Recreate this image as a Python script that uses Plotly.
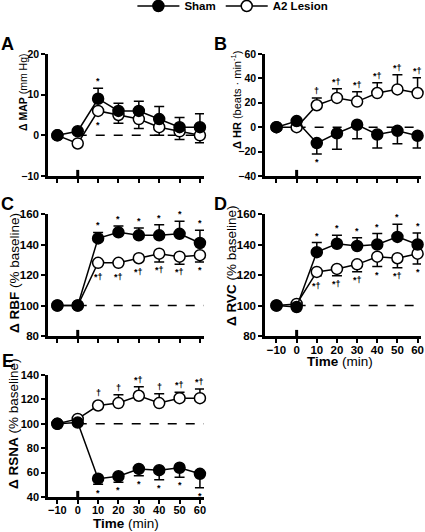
import plotly.graph_objects as go

# ---------------- data ----------------
time_min = [-10, 0, 10, 20, 30, 40, 50, 60]

map_sham = [0, 1, 9, 6, 6, 4, 2, 2]
map_sham_err = [0, 0, 2.6, 1.9, 2.4, 3.1, 2.4, 3.3]
map_lesion = [0, -2, 6, 5, 4, 2, 1, 0]
map_lesion_err = [0, 0, 0.5, 2.0, 2.3, 2.0, 2.0, 1.8]
map_sig_sham = ["", "", "*", "", "", "", "", ""]
map_sig_lesion = ["", "", "*", "", "", "", "", ""]

hr_sham = [0, 5, -13, -5, 2, -6, -3, -7]
hr_sham_err = [0, 0, 9, 13, 11.5, 11, 10.5, 10]
hr_lesion = [0, 0, 18, 24, 21, 28, 31, 28]
hr_lesion_err = [0, 0, 6, 7.5, 8, 8.5, 12, 12.5]
hr_sig_lesion = ["", "", "†", "*†", "*†", "*†", "*†", "*†"]
hr_sig_sham = ["", "", "*", "", "", "", "", ""]

rbf_sham = [100, 100, 144, 148, 146, 146, 147, 141]
rbf_sham_err = [0, 0, 3.8, 4.2, 4.8, 7, 8.3, 8.3]
rbf_lesion = [100, 100, 128, 128, 131, 134, 132, 133]
rbf_lesion_err = [0, 0, 0, 0, 0, 5.5, 5, 4.5]
rbf_sig_sham = ["", "", "*", "*", "*", "*", "*", "*"]
rbf_sig_lesion = ["", "", "*†", "*†", "*†", "*†", "*†", "*"]

rvc_sham = [100, 99, 135, 140.5, 139, 140, 145, 140]
rvc_sham_err = [0, 0, 6.3, 5.5, 5.5, 7.2, 8.3, 7.5]
rvc_lesion = [100, 101, 122, 124, 127, 132, 131, 134]
rvc_lesion_err = [0, 0, 2.5, 4.5, 4.8, 6.5, 6.2, 6.8]
rvc_sig_sham = ["", "", "*", "*", "*", "*", "*", "*"]
rvc_sig_lesion = ["", "", "*†", "*†", "*†", "*", "*†", "*"]

rsna_sham = [100, 101, 55, 57, 63, 62, 64, 59]
rsna_sham_err = [0, 0, 4.5, 5, 5.5, 7.8, 7.8, 11.5]
rsna_lesion = [100, 104, 115, 117, 123, 117, 121, 121]
rsna_lesion_err = [0, 0, 2, 6.8, 7.4, 7.6, 4.8, 7.6]
rsna_sig_lesion = ["", "", "†", "†", "*†", "†", "*†", "*†"]
rsna_sig_sham = ["", "", "*", "*", "*", "*", "*", "*"]

# ---------------- layout helpers ----------------
W, H = 425, 532
FONT = "Arial, Liberation Sans, sans-serif"

def fx(px):
    return px / W

def fy(py):
    return 1 - py / H

LEFT_X = [fx(48), fx(204)]
RIGHT_X = [fx(265), fx(421)]
LEFT_RANGE = [-14.6, 62.0]
RIGHT_RANGE = [-15.7, 61.7]
ROW_Y = [[fy(176), fy(54)], [fy(336), fy(214)], [fy(497), fy(375)]]

panels = [
    dict(letter="A", col=0, row=0, yr=[-10, 20], dt=10, base=0,
         ylab="<b>Δ MAP</b> (mm Hg)", ylab_pos=(23, 92), ylab_size=10.5, tick_size=10.5,
         series=[("lesion", map_lesion, map_lesion_err, "down", map_sig_lesion),
                 ("sham", map_sham, map_sham_err, "up", map_sig_sham)],
         xlabels=False),
    dict(letter="B", col=1, row=0, yr=[-40, 60], dt=20, base=0,
         ylab="<b>Δ HR</b> (beats · min<sup>-1</sup>)", ylab_pos=(236, 100), ylab_size=11, tick_size=10.5,
         series=[("lesion", hr_lesion, hr_lesion_err, "up", hr_sig_lesion),
                 ("sham", hr_sham, hr_sham_err, "down", hr_sig_sham)],
         xlabels=False),
    dict(letter="C", col=0, row=1, yr=[80, 160], dt=20, base=100,
         ylab="<b>Δ RBF</b> (% baseline)", ylab_pos=(14, 273), ylab_size=13.5, tick_size=11.5,
         series=[("lesion", rbf_lesion, rbf_lesion_err, "down", rbf_sig_lesion),
                 ("sham", rbf_sham, rbf_sham_err, "up", rbf_sig_sham)],
         xlabels=False),
    dict(letter="D", col=1, row=1, yr=[80, 160], dt=20, base=100,
         ylab="<b>Δ RVC</b> (% baseline)", ylab_pos=(231, 266), ylab_size=13.5, tick_size=11.5,
         series=[("lesion", rvc_lesion, rvc_lesion_err, "down", rvc_sig_lesion),
                 ("sham", rvc_sham, rvc_sham_err, "up", rvc_sig_sham)],
         xlabels=True, xtitle_pos=(340, 361)),
    dict(letter="E", col=0, row=2, yr=[40, 140], dt=20, base=100,
         ylab="<b>Δ RSNA</b> (% baseline)", ylab_pos=(13, 424), ylab_size=13.5, tick_size=11,
         series=[("lesion", rsna_lesion, rsna_lesion_err, "up", rsna_sig_lesion),
                 ("sham", rsna_sham, rsna_sham_err, "down", rsna_sig_sham)],
         xlabels=True, xtitle_pos=(126, 523)),
]

fig = go.Figure()
layout = {}
annotations = []
shapes = []
legend_done = set()

for i, p in enumerate(panels):
    n = "" if i == 0 else str(i + 1)
    xa, ya = "x" + n, "y" + n
    xdom = LEFT_X if p["col"] == 0 else RIGHT_X
    xr = LEFT_RANGE if p["col"] == 0 else RIGHT_RANGE
    ydom = ROW_Y[p["row"]]
    ppu = (ydom[1] - ydom[0]) * H / (p["yr"][1] - p["yr"][0])  # px per unit
    r_units = 6.0 / ppu

    tickfont = dict(family=FONT, size=p["tick_size"], color="black", weight="bold")
    layout["xaxis" + n] = dict(
        domain=xdom, range=xr, anchor=ya, showgrid=False, zeroline=False,
        showline=True, linecolor="black", linewidth=2.5, automargin=False,
        ticks="outside", ticklen=4, tickwidth=2, tickcolor="black",
        tickvals=time_min, showticklabels=p["xlabels"], tickfont=tickfont,
        ticklabelstandoff=-3,
    )
    layout["yaxis" + n] = dict(
        domain=ydom, range=p["yr"], anchor=xa, showgrid=False, zeroline=False,
        showline=True, linecolor="black", linewidth=2.5, automargin=False,
        ticks="outside", ticklen=4, tickwidth=2, tickcolor="black",
        dtick=p["dt"], tick0=p["yr"][0], tickfont=tickfont,
    )

    # y-axis title
    annotations.append(dict(x=fx(p["ylab_pos"][0]), y=fy(p["ylab_pos"][1]),
                            xref="paper", yref="paper", text=p["ylab"], textangle=-90,
                            showarrow=False, xanchor="center", yanchor="middle",
                            font=dict(family=FONT, size=p["ylab_size"], color="black")))
    if p["xlabels"]:
        annotations.append(dict(x=fx(p["xtitle_pos"][0]), y=fy(p["xtitle_pos"][1]),
                                xref="paper", yref="paper", text="<b>Time</b> (min)",
                                showarrow=False, xanchor="center", yanchor="middle",
                                font=dict(family=FONT, size=13.5, color="black")))

    # baseline dashed line
    shapes.append(dict(type="line", xref=xa, yref=ya, x0=0, x1=xr[1],
                       y0=p["base"], y1=p["base"],
                       line=dict(color="black", width=1.5, dash="dash"), layer="below"))
    # injection marker at time 0
    shapes.append(dict(type="line", xref=xa, yref=ya + " domain", x0=0, x1=0,
                       y0=0, y1=0.05, line=dict(color="black", width=3)))

    for name, vals, errs, direction, sigs in p["series"]:
        sham = name == "sham"
        up = direction == "up"
        fig.add_trace(go.Scatter(
            x=time_min, y=vals, xaxis=xa, yaxis=ya,
            mode="lines+markers",
            name="<b>Sham</b>" if sham else "<b>A2 Lesion</b>",
            legendgroup=name, legendrank=1 if sham else 2,
            showlegend=name not in legend_done,
            line=dict(color="black", width=1.5),
            marker=dict(size=11, color="black" if sham else "white",
                        line=dict(color="black", width=1.5)),
            error_y=dict(type="data", symmetric=False,
                         array=errs if up else [0] * len(errs),
                         arrayminus=[0] * len(errs) if up else errs,
                         color="black", thickness=1.5, width=5),
            cliponaxis=False,
        ))
        legend_done.add(name)
        for t, v, e, s in zip(time_min, vals, errs, sigs):
            if not s:
                continue
            off = max(e, r_units)
            annotations.append(dict(
                x=t, y=v + off if up else v - off, xref=xa, yref=ya,
                text=s, showarrow=False,
                yanchor="bottom" if up else "top",
                yshift=0 if up else -1,
                font=dict(family=FONT, size=9, color="black", weight="bold"),
            ))

    # panel letter
    lx = 8 if p["col"] == 0 else 220
    ly = [44, 204, 361][p["row"]]
    annotations.append(dict(x=fx(lx), y=fy(ly), xref="paper", yref="paper",
                            text="<b>%s</b>" % p["letter"], showarrow=False,
                            xanchor="center", yanchor="middle",
                            font=dict(family=FONT, size=18, color="black")))

fig.update_layout(
    template="none",
    width=W, height=H,
    margin=dict(l=0, r=0, t=0, b=0, autoexpand=False),
    paper_bgcolor="white", plot_bgcolor="white",
    showlegend=True,
    legend=dict(orientation="h", x=0.548, xanchor="center",
                y=1.016, yanchor="top",
                font=dict(family=FONT, size=11.5, color="black"),
                itemwidth=42, tracegroupgap=0, bgcolor="rgba(0,0,0,0)"),
    annotations=annotations, shapes=shapes,
    **layout,
)

fig.write_html("out.html", config={"displayModeBar": False},
               post_script="document.body.style.margin='0px';")
